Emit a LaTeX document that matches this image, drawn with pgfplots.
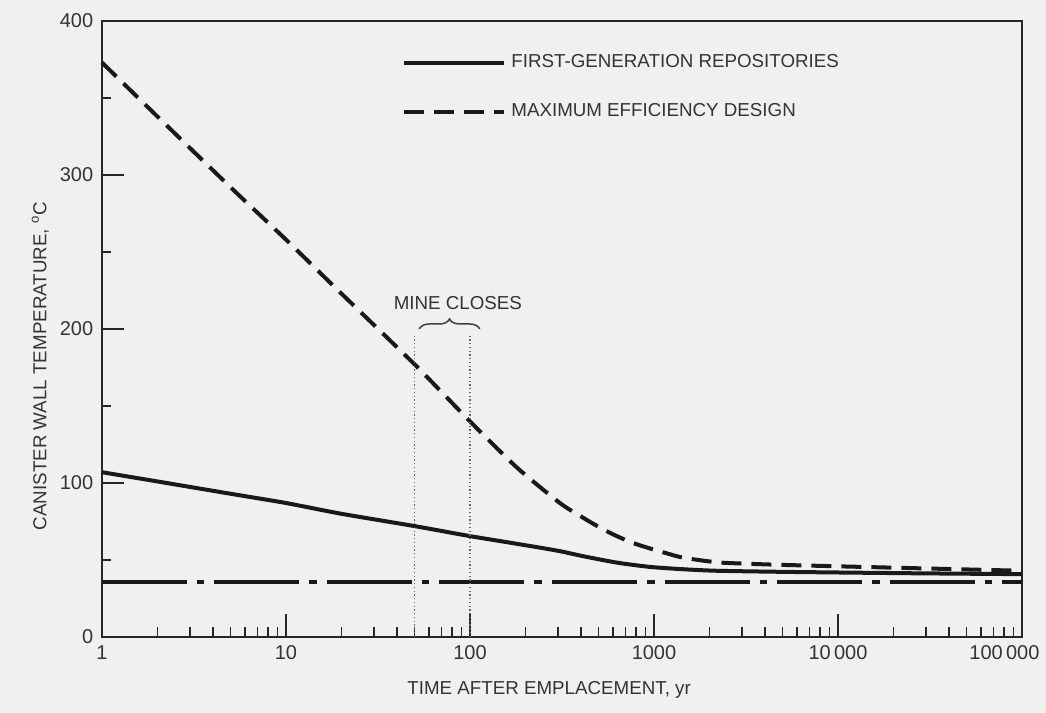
\documentclass[border=0pt]{standalone}
\usepackage{pgfplots}
\pgfplotsset{compat=1.18}
\usepackage{fontspec}
\setmainfont{Liberation Sans}
\usetikzlibrary{decorations.pathreplacing}
\begin{document}
\begin{tikzpicture}[font=\fontsize{7.5}{9}\selectfont]
\fill[black!6] (-40.8pt,-30.4pt) rectangle (377.6pt,254.8pt);
\begin{axis}[
  scale only axis, width=368pt, height=246.4pt,
  xmode=log, log basis x=10,
  xmin=1, xmax=100000, ymin=0, ymax=400,
  axis line style={line width=1.1pt, black!85},
  xtick={1,10,100,1000,10000,100000},
  xticklabels={1,10,100,1000,10\,000,\makebox[0pt][r]{100\,000\kern-7pt}},
  minor xtick={2,3,4,5,6,7,8,9,20,30,40,50,60,70,80,90,200,300,400,500,600,700,800,900,2000,3000,4000,5000,6000,7000,8000,9000,20000,30000,40000,50000,60000,70000,80000,90000},
  ytick={0,100,200,300,400},
  minor ytick={50,150,250,350},
  tick align=inside, xtick pos=bottom, ytick pos=left,
  major tick length=9pt,
  minor tick length=3.8pt,
  every tick/.style={black!85, line width=0.7pt},
  tick label style={font=\fontsize{8}{9}\selectfont, text=black!80},
  /pgf/number format/assume math mode=true,
  xlabel={TIME AFTER EMPLACEMENT, yr},
  ylabel={CANISTER WALL TEMPERATURE, \textsuperscript{o}C},
  xlabel style={at={(axis description cs:0.486,-0.086)}, anchor=center, text=black!80},
  ylabel style={at={(axis description cs:-0.067,0.44)}, anchor=center, text=black!80},
  clip=false,
  legend cell align=left,
  legend style={at={(axis description cs:0.326,0.955)}, anchor=north west, draw=none, fill=none,
    inner sep=0pt, row sep=9pt, font=\fontsize{7.5}{9}\selectfont, text=black!80,
    /tikz/every even column/.style={column sep=4pt}},
  legend image code/.code={\draw[#1] (0pt,0pt) -- (40pt,0pt);},
]
\addplot[black!90, line width=1.6pt, smooth, tension=0.4] coordinates {
(1,107) (2,101) (5,93) (10,87) (20,80) (50,72) (100,65.5) (180,60.5) (300,56) (411,52.5) (628,48.3) (950,45.5) (1440,44) (2190,43) (5000,42.3) (11600,41.8) (30000,41.3) (100000,40.8)};
\addlegendentry{FIRST-GENERATION REPOSITORIES}
\addplot[black!90, line width=1.6pt, dash pattern=on 8pt off 4pt, smooth, tension=0.4] coordinates {
(1,373) (2,338) (5,292) (10,258) (20,223) (50,177) (100,140) (180,110) (308,87) (411,77.5) (509,71) (628,65.5) (771,61) (950,57.5) (1175,54.3) (1440,51.5) (2190,48.5) (3330,47.5) (5040,46.8) (11600,45.7) (30000,44.5) (100000,43)};
\addlegendentry{MAXIMUM EFFICIENCY DESIGN}
\addplot[black!90, line width=1.6pt, dash pattern=on 34pt off 4pt on 3pt off 4pt, forget plot] coordinates {(1,35.5) (100000,35.5)};
\addplot[black!60, densely dotted, line width=0.5pt, forget plot] coordinates {(50,0) (50,196)};
\addplot[black!60, densely dotted, line width=0.5pt, forget plot] coordinates {(100,0) (100,196)};
\draw[decorate, decoration={brace, amplitude=4pt}, black!75, line width=0.6pt] (axis cs:53,200) -- (axis cs:113,200);
\node[text=black!80] at (axis cs:86,217) {MINE CLOSES};
\end{axis}
\end{tikzpicture}
\end{document}
